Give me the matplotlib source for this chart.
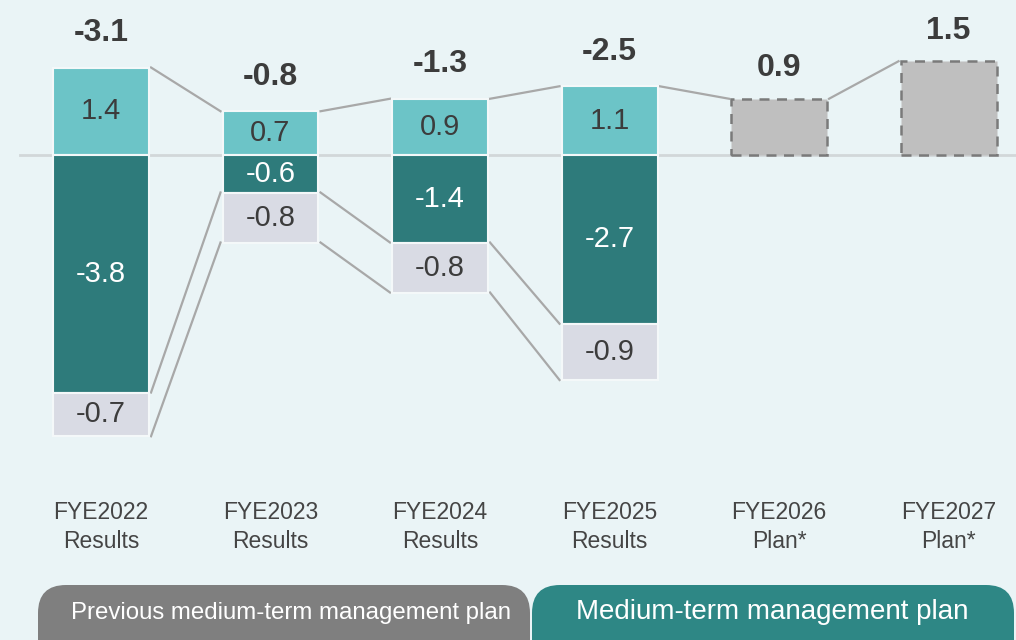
import matplotlib
matplotlib.use("Agg")
import matplotlib.pyplot as plt
from matplotlib.patches import FancyBboxPatch
from matplotlib.transforms import blended_transform_factory

plt.rcParams['font.family'] = ['Liberation Sans', 'DejaVu Sans']

# ---- data ----
categories = ["FYE2022\nResults", "FYE2023\nResults", "FYE2024\nResults",
              "FYE2025\nResults", "FYE2026\nPlan*", "FYE2027\nPlan*"]
upper = [1.4, 0.7, 0.9, 1.1]          # light teal segment
middle = [-3.8, -0.6, -1.4, -2.7]     # dark teal segment
lower = [-0.7, -0.8, -0.8, -0.9]      # light grey segment
plan = [0.9, 1.5]                     # plan bars
totals = [-3.1, -0.8, -1.3, -2.5, 0.9, 1.5]
band_labels = ["Previous medium-term management plan", "Medium-term management plan"]

# ---- styles ----
bg = "#EAF4F6"
c_up = "#6CC4C7"
c_mid = "#2E7B7B"
c_low = "#D9DBE4"
c_plan = "#BFBFBF"
c_line = "#A8A8A8"
txt = "#3C3C3C"

fig = plt.figure(figsize=(10.16, 6.4), dpi=100)
fig.patch.set_facecolor(bg)
ax = fig.add_axes([0, 0, 1, 1])
ax.set_facecolor(bg)
ax.axis("off")
ax.set_xlim(-0.596, 5.398)
ax.set_ylim(-7.76, 2.48)

w = 0.566
n_res = len(upper)
xr = list(range(n_res))
xp = list(range(n_res, n_res + len(plan)))

ax.axhline(0, xmin=0.02, xmax=1, color="#D2D7D9", lw=2, zorder=0)

ax.bar(xr, upper, w, color=c_up, edgecolor="#F4F8F9", lw=1.5, zorder=2)
ax.bar(xr, middle, w, color=c_mid, edgecolor="#F4F8F9", lw=1.5, zorder=2)
ax.bar(xr, lower, w, bottom=middle, color=c_low, edgecolor="#F4F8F9", lw=1.5, zorder=2)
ax.bar(xp, plan, w, color=c_plan, edgecolor="#7A7A7A", lw=1.8, ls=(0, (4, 3)), zorder=2)

# connectors
tops = upper + plan
xs = xr + xp
h = w / 2 + 0.012
for i in range(len(xs) - 1):
    ax.plot([xs[i] + h, xs[i + 1] - h], [tops[i], tops[i + 1]], color=c_line, lw=1.6, zorder=1)
mid_bot = middle
low_bot = [m + l for m, l in zip(middle, lower)]
for i in range(n_res - 1):
    ax.plot([xr[i] + h, xr[i + 1] - h], [mid_bot[i], mid_bot[i + 1]], color=c_line, lw=1.6, zorder=1)
    ax.plot([xr[i] + h, xr[i + 1] - h], [low_bot[i], low_bot[i + 1]], color=c_line, lw=1.6, zorder=1)

# segment labels
for i in range(n_res):
    ax.text(xr[i], upper[i] / 2, f"{upper[i]:.1f}", ha="center", va="center", fontsize=21, color=txt, zorder=3)
    ax.text(xr[i], middle[i] / 2, f"{middle[i]:.1f}", ha="center", va="center", fontsize=21, color="white", zorder=3)
    ax.text(xr[i], middle[i] + lower[i] / 2, f"{lower[i]:.1f}", ha="center", va="center", fontsize=21, color=txt, zorder=3)

# totals
for k, (x, t, top) in enumerate(zip(xs, totals, tops)):
    off = 25 if k < n_res else 22
    ax.annotate(f"{t:.1f}", (x, top), xytext=(0, off), textcoords="offset points",
                ha="center", va="center", fontsize=23, fontweight="bold", color=txt)

# category labels
tr = blended_transform_factory(ax.transData, ax.transAxes)
for x, c in zip(xs, categories):
    ax.text(x, 1 - 527 / 640, c, transform=tr, ha="center", va="center", fontsize=16.5,
            color="#454545", linespacing=1.28)

# bands (pixel overlay)
ov = fig.add_axes([0, 0, 1, 1], facecolor="none")
ov.axis("off")
ov.set_xlim(0, 1016)
ov.set_ylim(640, 0)
ov.add_patch(FancyBboxPatch((38, 585), 492, 90, boxstyle="round,pad=0,rounding_size=28",
                            fc="#7F7F7F", ec="none"))
ov.add_patch(FancyBboxPatch((532, 585), 482, 90, boxstyle="round,pad=0,rounding_size=28",
                            fc="#2E8785", ec="none"))
ov.text(291, 613, band_labels[0], ha="center", va="center", fontsize=17.3, color="white")
ov.text(772, 612, band_labels[1], ha="center", va="center", fontsize=20, color="white")

fig.savefig("out.png", dpi=100, facecolor=bg)
